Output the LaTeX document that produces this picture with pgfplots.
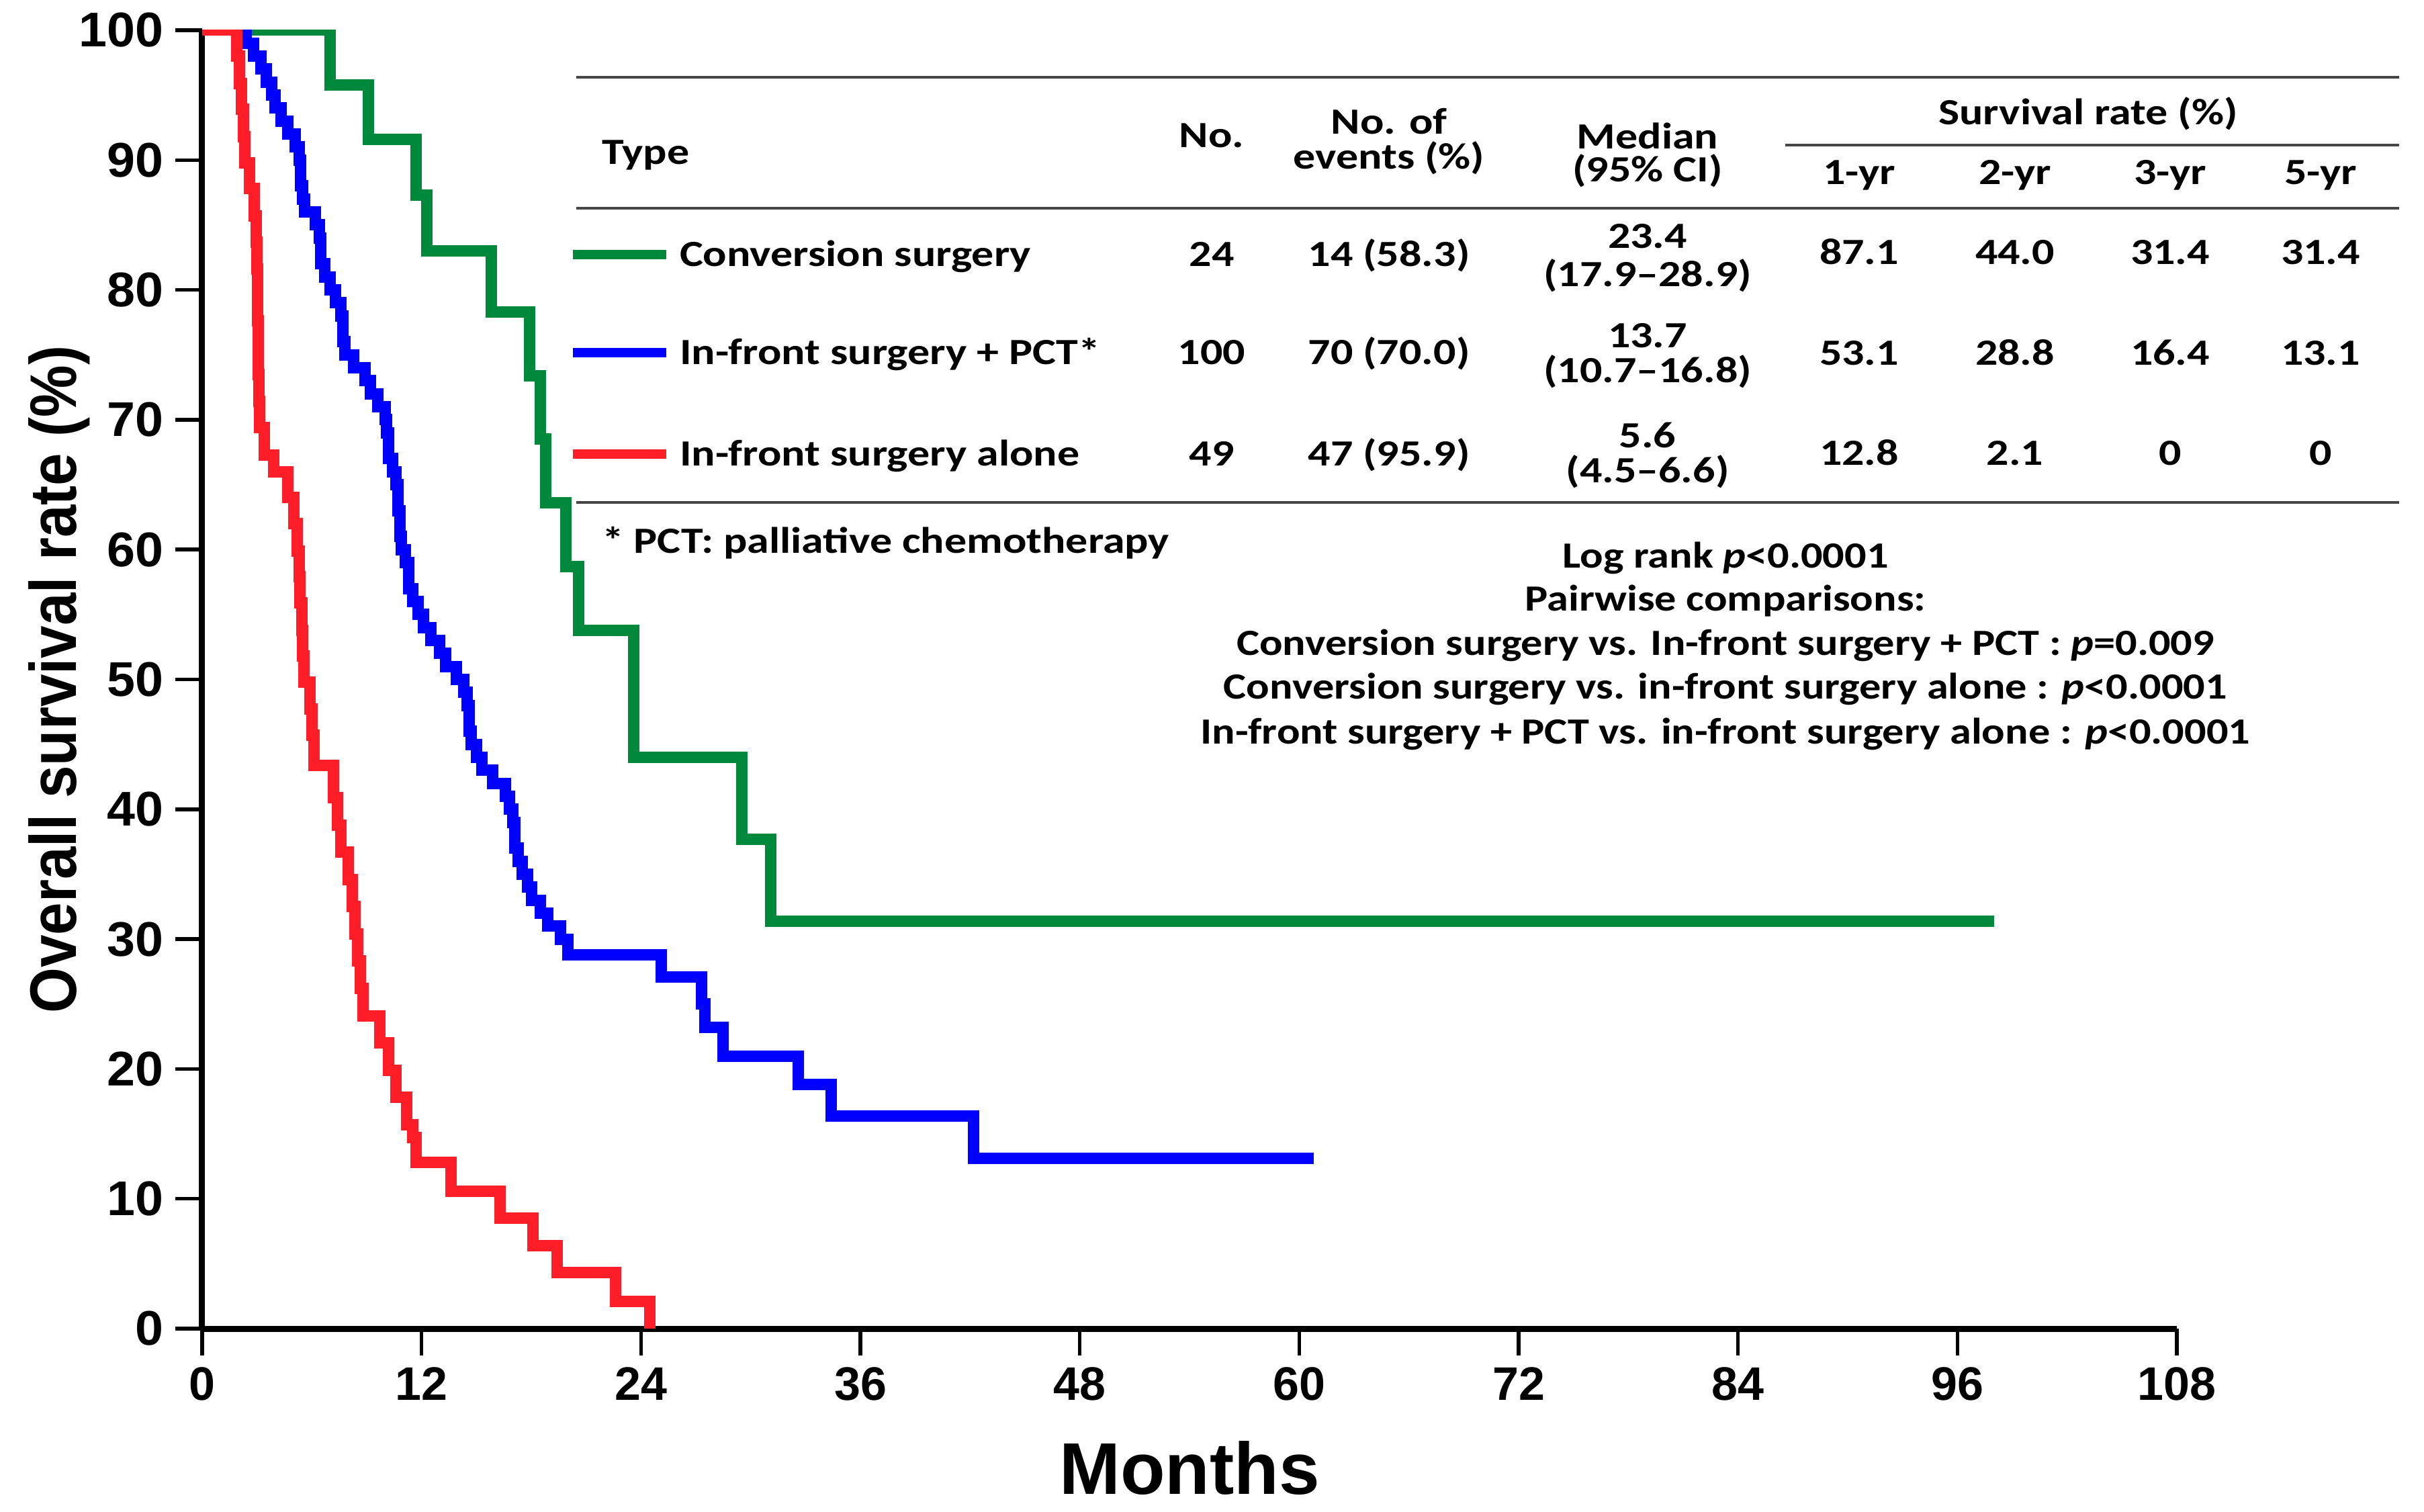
\documentclass[border=0pt]{standalone}
\usepackage{fontspec}
\usepackage{pgfplots}
\pgfplotsset{compat=1.18}
\newfontfamily\calf[FakeStretch=1.2]{Carlito}
\newfontfamily\pvf[FakeStretch=1.17]{Carlito}
\newfontfamily\ytf[FakeStretch=1.04]{Liberation Sans}
\newfontfamily\arf{Liberation Sans}
\newfontfamily\ylf[FakeStretch=0.89]{Liberation Sans}
\definecolor{kmgreen}{RGB}{0,136,60}
\definecolor{kmblue}{RGB}{0,0,255}
\definecolor{kmred}{RGB}{255,30,40}
\definecolor{rule}{RGB}{70,70,70}
\newcommand{\tf}{\calf\bfseries\fontsize{11}{13}\selectfont}
\newcommand{\pf}{\pvf\bfseries\fontsize{11}{13}\selectfont}
\begin{document}
\begin{tikzpicture}
\path[use as bounding box] (-60.2pt,-54.4pt) rectangle (661.6pt,395.6pt);
\begin{axis}[
  at={(0pt,0pt)}, anchor=south west,
  scale only axis, width=588pt, height=386.6pt,
  xmin=0, xmax=108, ymin=0, ymax=100,
  axis lines=left,
  axis line style={-, line width=1.8pt, black},
  xtick={0,12,24,36,48,60,72,84,96,108},
  xticklabels={0,12,24,36,48,60,72,84,96,108},
  ytick={0,10,20,30,40,50,60,70,80,90,100},
  yticklabels={0,10,20,30,40,50,60,70,80,90,100},
  tick align=outside, major tick length=8pt,
  tick style={black, line width=1.1pt},
  xticklabel style={font=\arf\bfseries\fontsize{14}{14}\selectfont},
  yticklabel style={font=\ytf\bfseries\fontsize{14.5}{14.5}\selectfont},
  xlabel={Months},
  ylabel={Overall survival rate (\%)},
  xlabel style={at={(axis description cs:0.5,-0.1076)}, anchor=center, font=\arf\bfseries\fontsize{21.8}{22}\selectfont},
  ylabel style={at={(axis description cs:-0.0724,0.5)}, anchor=center, font=\ylf\bfseries\fontsize{19.6}{20}\selectfont},
]
\addplot[const plot, kmgreen, line width=3.4pt] coordinates {
(0,100)(7.0,95.8)(9.1,91.6)(11.7,87.3)(12.3,83.0)(15.8,78.3)(17.9,73.4)(18.5,68.5)(18.8,63.6)(19.9,58.7)(20.6,53.8)(23.6,44.0)(29.5,37.7)(31.1,31.4)(98.0,31.4)};
\addplot[const plot, kmblue, line width=3.4pt] coordinates {
(0,100)(2.4,99)(2.8,98)(3.2,97)(3.5,96)(3.8,95)(4.0,94)(4.3,93)(4.7,92)(5.1,91)(5.3,90)(5.4,88)(5.5,87)(5.6,86)(6.2,85)(6.4,84)(6.5,82)(6.7,81)(7.0,80)(7.3,79)(7.6,78)(7.7,76)(7.8,75)(8.3,74)(8.9,73)(9.2,72)(9.6,71)(10.0,70)(10.1,69)(10.2,67)(10.4,66)(10.6,65)(10.7,63)(10.8,61)(10.9,60)(11.1,59)(11.3,57)(11.5,56)(11.8,55)(12.1,54)(12.5,53)(13.0,52)(13.3,51)(13.9,50)(14.3,49)(14.5,48)(14.6,46)(14.7,45)(15.0,44)(15.3,43)(15.9,42)(16.6,41)(16.8,40)(17.0,39)(17.1,37)(17.3,36)(17.5,35)(17.8,34)(18.0,33)(18.5,32)(18.9,31)(19.6,30)(20.0,28.8)(25.1,27.1)(27.3,25.0)(27.5,23.2)(28.5,21.0)(32.6,18.8)(34.4,16.4)(42.2,13.1)(60.8,13.1)};
\addplot[const plot, kmred, line width=3.4pt] coordinates {
(0,100)(1.9,98.0)(2.05,95.9)(2.15,93.9)(2.25,91.8)(2.35,89.8)(2.6,87.8)(2.85,85.7)(2.95,83.7)(3.0,81.6)(3.02,79.6)(3.04,77.6)(3.06,75.5)(3.08,73.5)(3.1,71.4)(3.15,69.4)(3.4,67.3)(3.9,66.0)(4.7,64.0)(5.0,62.0)(5.2,59.9)(5.3,57.9)(5.35,55.9)(5.45,53.8)(5.5,51.8)(5.55,49.8)(5.9,47.7)(6.0,45.7)(6.1,43.4)(7.2,40.9)(7.4,38.8)(7.6,36.7)(8.0,34.6)(8.2,32.5)(8.35,30.4)(8.5,28.3)(8.65,26.2)(8.8,24.1)(9.7,22.0)(10.2,19.9)(10.6,17.8)(11.2,15.7)(11.5,14.7)(11.7,12.8)(13.6,10.6)(16.3,8.5)(18.1,6.4)(19.4,4.3)(22.6,2.1)(24.5,0)};
\end{axis}
% table rules
\draw[rule, line width=0.9pt] (111.4pt,372.6pt) -- (654.2pt,372.6pt);
\draw[rule, line width=0.9pt] (471.4pt,352.4pt) -- (654.2pt,352.4pt);
\draw[rule, line width=0.9pt] (111.4pt,333.6pt) -- (654.2pt,333.6pt);
\draw[rule, line width=0.9pt] (111.4pt,246pt) -- (654.2pt,246pt);
% header
\node[anchor=base west, inner sep=0pt, font=\tf] at (118.8pt,346.7pt) {Type};
\node[anchor=base, inner sep=0pt, font=\tf] at (300.6pt,351.7pt) {No.};
\node[anchor=base, inner sep=0pt, font=\tf] at (353.4pt,355.7pt) {No. of};
\node[anchor=base, inner sep=0pt, font=\tf] at (353.4pt,345.3pt) {events (\%)};
\node[anchor=base, inner sep=0pt, font=\tf] at (430.4pt,351.3pt) {Median};
\node[anchor=base, inner sep=0pt, font=\tf] at (430.4pt,341.5pt) {(95\% CI)};
\node[anchor=base, inner sep=0pt, font=\tf] at (561.6pt,358.5pt) {Survival rate (\%)};
\node[anchor=base, inner sep=0pt, font=\tf] at (493.4pt,340.7pt) {1-yr};
\node[anchor=base, inner sep=0pt, font=\tf] at (539.8pt,340.7pt) {2-yr};
\node[anchor=base, inner sep=0pt, font=\tf] at (586pt,340.7pt) {3-yr};
\node[anchor=base, inner sep=0pt, font=\tf] at (630.8pt,340.7pt) {5-yr};
% legend samples
\draw[kmgreen, line width=2.7pt] (110.4pt,319.8pt) -- (138.2pt,319.8pt);
\draw[kmblue, line width=2.7pt] (110.4pt,290.6pt) -- (138.2pt,290.6pt);
\draw[kmred, line width=2.7pt] (110.4pt,260.4pt) -- (138.2pt,260.4pt);
% rows
\node[anchor=base west, inner sep=0pt, font=\tf] at (142pt,316.3pt) {Conversion surgery};
\node[anchor=base west, inner sep=0pt, font=\tf] at (142pt,287.1pt) {In-front surgery + PCT*};
\node[anchor=base west, inner sep=0pt, font=\tf] at (142pt,256.9pt) {In-front surgery alone};
\node[anchor=base, inner sep=0pt, font=\tf] at (300.6pt,316.3pt) {24};
\node[anchor=base, inner sep=0pt, font=\tf] at (300.6pt,287.1pt) {100};
\node[anchor=base, inner sep=0pt, font=\tf] at (300.6pt,256.9pt) {49};
\node[anchor=base, inner sep=0pt, font=\tf] at (353.4pt,316.3pt) {14 (58.3)};
\node[anchor=base, inner sep=0pt, font=\tf] at (353.4pt,287.1pt) {70 (70.0)};
\node[anchor=base, inner sep=0pt, font=\tf] at (353.4pt,256.9pt) {47 (95.9)};
\node[anchor=base, inner sep=0pt, font=\tf] at (430.4pt,321.7pt) {23.4};
\node[anchor=base, inner sep=0pt, font=\tf] at (430.4pt,310.3pt) {(17.9–28.9)};
\node[anchor=base, inner sep=0pt, font=\tf] at (430.4pt,292.1pt) {13.7};
\node[anchor=base, inner sep=0pt, font=\tf] at (430.4pt,281.7pt) {(10.7–16.8)};
\node[anchor=base, inner sep=0pt, font=\tf] at (430.4pt,262.3pt) {5.6};
\node[anchor=base, inner sep=0pt, font=\tf] at (430.4pt,251.9pt) {(4.5–6.6)};
\node[anchor=base, inner sep=0pt, font=\tf] at (493.4pt,316.9pt) {87.1};
\node[anchor=base, inner sep=0pt, font=\tf] at (539.8pt,316.9pt) {44.0};
\node[anchor=base, inner sep=0pt, font=\tf] at (586pt,316.9pt) {31.4};
\node[anchor=base, inner sep=0pt, font=\tf] at (630.8pt,316.9pt) {31.4};
\node[anchor=base, inner sep=0pt, font=\tf] at (493.4pt,286.9pt) {53.1};
\node[anchor=base, inner sep=0pt, font=\tf] at (539.8pt,286.9pt) {28.8};
\node[anchor=base, inner sep=0pt, font=\tf] at (586pt,286.9pt) {16.4};
\node[anchor=base, inner sep=0pt, font=\tf] at (630.8pt,286.9pt) {13.1};
\node[anchor=base, inner sep=0pt, font=\tf] at (493.4pt,257.1pt) {12.8};
\node[anchor=base, inner sep=0pt, font=\tf] at (539.8pt,257.1pt) {2.1};
\node[anchor=base, inner sep=0pt, font=\tf] at (586pt,257.1pt) {0};
\node[anchor=base, inner sep=0pt, font=\tf] at (630.8pt,257.1pt) {0};
\node[anchor=base west, inner sep=0pt, font=\tf] at (118.8pt,230.9pt) {* PCT: palliative chemotherapy};
% p-values
\node[anchor=base, inner sep=0pt, font=\pf] at (453.6pt,226.5pt) {Log rank \textit{p}<0.0001};
\node[anchor=base, inner sep=0pt, font=\pf] at (453.6pt,213.7pt) {Pairwise comparisons:};
\node[anchor=base, inner sep=0pt, font=\pf] at (453.6pt,200.5pt) {Conversion surgery vs. In-front surgery + PCT : \textit{p}=0.009};
\node[anchor=base, inner sep=0pt, font=\pf] at (453.6pt,187.5pt) {Conversion surgery vs. in-front surgery alone : \textit{p}<0.0001};
\node[anchor=base, inner sep=0pt, font=\pf] at (453.6pt,174.1pt) {In-front surgery + PCT vs. in-front surgery alone : \textit{p}<0.0001};
\end{tikzpicture}
\end{document}
